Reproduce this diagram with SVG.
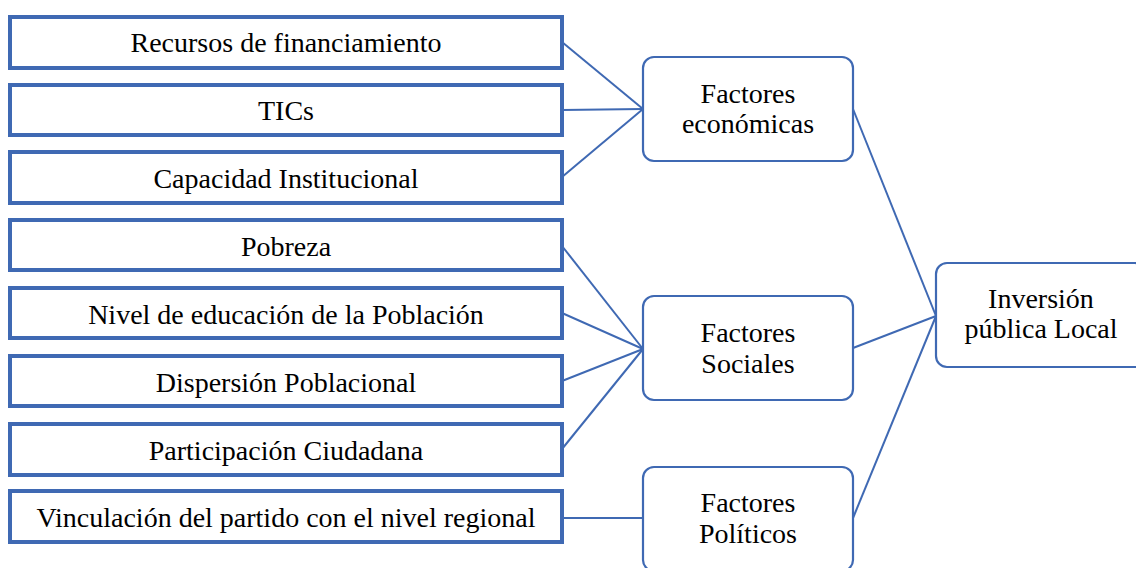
<svg xmlns="http://www.w3.org/2000/svg" width="1136" height="568" viewBox="0 0 1136 568">
<rect width="1136" height="568" fill="#fff"/>
<g id="connectors" stroke="#3F69B3" stroke-width="2" fill="none">
<line x1="562" y1="42" x2="643" y2="109"/>
<line x1="562" y1="110" x2="643" y2="109"/>
<line x1="562" y1="177" x2="643" y2="109"/>
<line x1="562" y1="246" x2="643" y2="349"/>
<line x1="562" y1="313" x2="643" y2="349"/>
<line x1="562" y1="381" x2="643" y2="349"/>
<line x1="562" y1="449" x2="643" y2="349"/>
<line x1="562" y1="518" x2="643" y2="518"/>
<line x1="853" y1="109" x2="936" y2="316"/>
<line x1="853" y1="348" x2="936" y2="316"/>
<line x1="853" y1="518" x2="936" y2="316"/>
</g>
<g id="n1"><rect x="10" y="17" width="552" height="51" fill="#fff" stroke="#3F69B3" stroke-width="4"/><text x="286" y="52" font-family="Liberation Serif" font-size="28" text-anchor="middle">Recursos de financiamiento</text></g>
<g id="n2"><rect x="10" y="85" width="552" height="50" fill="#fff" stroke="#3F69B3" stroke-width="4"/><text x="286" y="120" font-family="Liberation Serif" font-size="28" text-anchor="middle">TICs</text></g>
<g id="n3"><rect x="10" y="152" width="552" height="51" fill="#fff" stroke="#3F69B3" stroke-width="4"/><text x="286" y="188" font-family="Liberation Serif" font-size="28" text-anchor="middle">Capacidad Institucional</text></g>
<g id="n4"><rect x="10" y="220" width="552" height="50" fill="#fff" stroke="#3F69B3" stroke-width="4"/><text x="286" y="256" font-family="Liberation Serif" font-size="28" text-anchor="middle">Pobreza</text></g>
<g id="n5"><rect x="10" y="288" width="552" height="50" fill="#fff" stroke="#3F69B3" stroke-width="4"/><text x="286" y="324" font-family="Liberation Serif" font-size="28" text-anchor="middle">Nivel de educación de la Población</text></g>
<g id="n6"><rect x="10" y="356" width="552" height="50" fill="#fff" stroke="#3F69B3" stroke-width="4"/><text x="286" y="392" font-family="Liberation Serif" font-size="28" text-anchor="middle">Dispersión Poblacional</text></g>
<g id="n7"><rect x="10" y="424" width="552" height="51" fill="#fff" stroke="#3F69B3" stroke-width="4"/><text x="286" y="460" font-family="Liberation Serif" font-size="28" text-anchor="middle">Participación Ciudadana</text></g>
<g id="n8"><rect x="10" y="491" width="552" height="51" fill="#fff" stroke="#3F69B3" stroke-width="4"/><text x="286" y="527" font-family="Liberation Serif" font-size="28" text-anchor="middle">Vinculación del partido con el nivel regional</text></g>
<g id="f1"><rect x="643" y="57" width="210" height="104" rx="11" fill="#fff" stroke="#3F69B3" stroke-width="2.2"/><text x="748" y="103" font-family="Liberation Serif" font-size="28" text-anchor="middle">Factores</text><text x="748" y="133" font-family="Liberation Serif" font-size="28" text-anchor="middle">económicas</text></g>
<g id="f2"><rect x="643" y="296" width="210" height="104" rx="11" fill="#fff" stroke="#3F69B3" stroke-width="2.2"/><text x="748" y="342" font-family="Liberation Serif" font-size="28" text-anchor="middle">Factores</text><text x="748" y="373" font-family="Liberation Serif" font-size="28" text-anchor="middle">Sociales</text></g>
<g id="f3"><rect x="643" y="467" width="210" height="104" rx="11" fill="#fff" stroke="#3F69B3" stroke-width="2.2"/><text x="748" y="512" font-family="Liberation Serif" font-size="28" text-anchor="middle">Factores</text><text x="748" y="543" font-family="Liberation Serif" font-size="28" text-anchor="middle">Políticos</text></g>
<g id="inv"><rect x="936" y="263" width="210" height="104" rx="11" fill="#fff" stroke="#3F69B3" stroke-width="2.2"/><text x="1041" y="308" font-family="Liberation Serif" font-size="28" text-anchor="middle">Inversión</text><text x="1041" y="338" font-family="Liberation Serif" font-size="28" text-anchor="middle">pública Local</text></g>
</svg>
